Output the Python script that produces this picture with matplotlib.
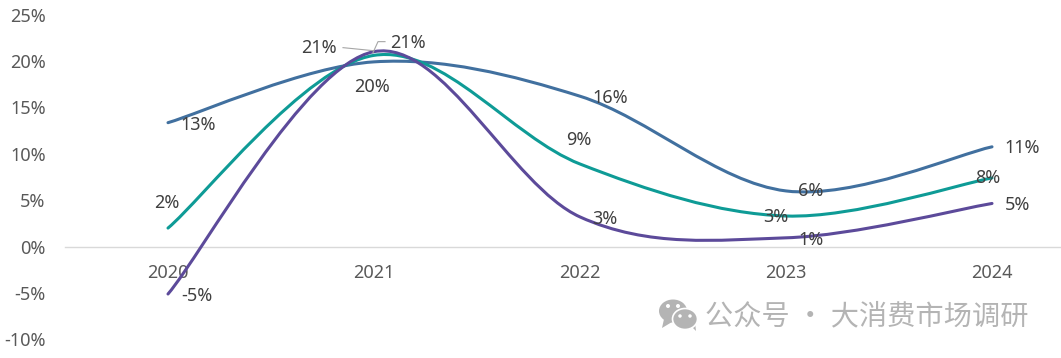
import matplotlib
matplotlib.use("Agg")
import matplotlib.pyplot as plt
from matplotlib.path import Path
from matplotlib.patches import PathPatch, Ellipse, Polygon
from matplotlib.transforms import ScaledTranslation

W, H = 1061, 358
years = ["2020", "2021", "2022", "2023", "2024"]
blue_values = [13.35, 19.9, 16.2, 6.0, 10.75]
teal_values = [2.0, 20.6, 8.9, 3.3, 7.4]
purple_values = [-5.1, 21.0, 3.2, 0.95, 4.65]
blue_labels = ["13%", "20%", "16%", "6%", "11%"]
teal_labels = ["2%", "21%", "9%", "3%", "8%"]
purple_labels = ["-5%", "21%", "3%", "1%", "5%"]
y_ticks = [-10, -5, 0, 5, 10, 15, 20, 25]

# label offsets from their points, in pixels (dx, dy upward)
blue_off = [(30, -2), (-2, -25), (30, -2), (25, 0), (30, -1)]
teal_off = [(-1, 25), (-55, 7), (-1, 24), (-10, -1), (-4, 0)]
purple_off = [(29, -2), (34, 9), (25, -2), (25, -2), (25, -2)]

TEXT = "#404040"
TICK = "#595959"
BLUE, TEAL, PURPLE = "#41709F", "#0E9B96", "#5C4A9A"
FS = 13.0

plt.rcParams["font.family"] = ["Noto Sans", "Noto Sans CJK SC", "DejaVu Sans"]
fig = plt.figure(figsize=(W / 100, H / 100), dpi=100)
ax = fig.add_axes([65 / W, 1 - 339.5 / H, 1030 / W, 325 / H])
ax.set_xlim(-0.5, 4.5)
ax.set_ylim(-10, 25)
for s in ("top", "right", "left"):
    ax.spines[s].set_visible(False)
ax.spines["bottom"].set_position(("data", 0))
ax.spines["bottom"].set_color("#D9D9D9")
ax.spines["bottom"].set_linewidth(1)
ax.set_xticks(range(len(years)), years)
ax.set_yticks(y_ticks, [f"{v}%" for v in y_ticks])
ax.tick_params(axis="x", length=0, pad=12.5, labelsize=FS, labelcolor=TICK)
ax.tick_params(axis="y", length=0, pad=14, labelsize=FS, labelcolor=TICK)
ax.patch.set_alpha(0)


def smooth(vals):
    """Smooth line through the values, Catmull-Rom Bezier segments."""
    n = len(vals)
    pts = list(enumerate(vals))
    verts, codes = [pts[0]], [Path.MOVETO]
    for i in range(n - 1):
        p0 = pts[max(i - 1, 0)]
        p1, p2 = pts[i], pts[i + 1]
        p3 = pts[min(i + 2, n - 1)]
        c1 = (p1[0] + (p2[0] - p0[0]) / 6, p1[1] + (p2[1] - p0[1]) / 6)
        c2 = (p2[0] - (p3[0] - p1[0]) / 6, p2[1] - (p3[1] - p1[1]) / 6)
        verts += [c1, c2, p2]
        codes += [Path.CURVE4] * 3
    return Path(verts, codes)


for vals, col in ((blue_values, BLUE), (teal_values, TEAL), (purple_values, PURPLE)):
    ax.add_patch(PathPatch(smooth(vals), fc="none", ec=col, lw=2.2,
                           capstyle="round", zorder=3))


def off(dx, dy):
    return ax.transData + ScaledTranslation(dx / 100, dy / 100, fig.dpi_scale_trans)


# leader lines of the two 21% labels
leader = "#A6A6A6"
base = ax.transData.transform((1, purple_values[1]))
for pts in ([(-31, 4), (-1, 1)], [(-1, -1), (4, 10), (11, 10)]):
    fig.add_artist(plt.Line2D([(base[0] + p[0]) / W for p in pts],
                              [(base[1] + p[1]) / H for p in pts],
                              transform=fig.transFigure, color=leader,
                              lw=0.8, zorder=4))

for vals, labs, offs in ((blue_values, blue_labels, blue_off),
                         (teal_values, teal_labels, teal_off),
                         (purple_values, purple_labels, purple_off)):
    for i, (v, t, o) in enumerate(zip(vals, labs, offs)):
        ax.text(i, v, t, transform=off(*o), ha="center", va="center",
                fontsize=FS, color=TEXT, zorder=5)

# watermark
gray = "#B4B4B4"
pax = fig.add_axes([0, 0, 1, 1])
pax.set_xlim(0, W)
pax.set_ylim(H, 0)
pax.axis("off")
pax.add_patch(Polygon([(664, 319), (662, 328), (672, 322)], fc=gray, ec="none"))
pax.add_patch(Ellipse((673, 311), 28, 23, fc=gray, ec="none"))
for ex in (668, 678):
    pax.add_patch(Ellipse((ex, 306), 4, 4, fc="white", ec="none"))
pax.add_patch(Polygon([(690, 325), (696, 331), (695, 322)], fc=gray, ec="none"))
pax.add_patch(Ellipse((685, 319), 25, 21, fc=gray, ec="white", lw=1.2))
for ex in (680, 690):
    pax.add_patch(Ellipse((ex, 316), 3.5, 3.5, fc="white", ec="none"))
pax.text(867, 316, "公众号 · 大消费市场调研", ha="center", va="center",
         fontsize=20.3, color=gray, family=["Noto Sans CJK SC", "DejaVu Sans"])

fig.savefig("out.png", dpi=100)
